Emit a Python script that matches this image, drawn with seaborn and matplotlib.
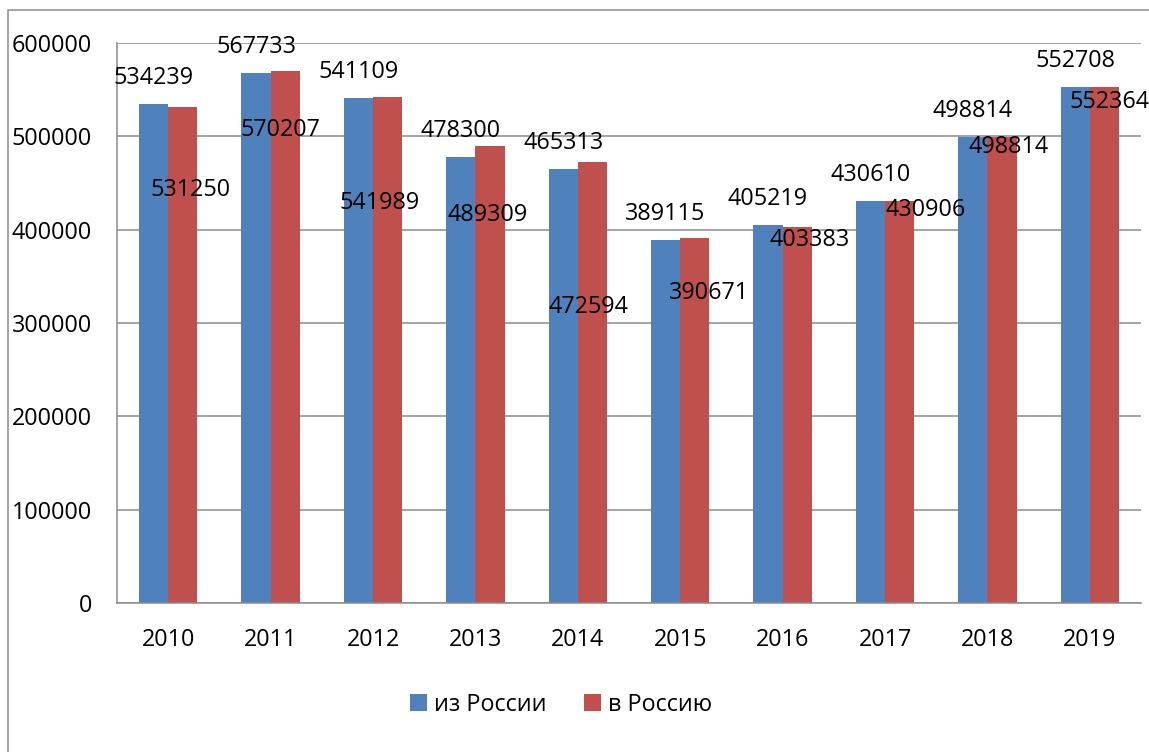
import matplotlib
matplotlib.use("Agg")
import matplotlib.pyplot as plt
import seaborn as sns
import pandas as pd
from matplotlib.patches import Rectangle

years = ["2010", "2011", "2012", "2013", "2014", "2015", "2016", "2017", "2018", "2019"]
from_russia = [534239, 567733, 541109, 478300, 465313, 389115, 405219, 430610, 498814, 552708]
to_russia = [531250, 570207, 541989, 489309, 472594, 390671, 403383, 430906, 498814, 552364]
series_names = ["из России", "в Россию"]
y_ticks = [0, 100000, 200000, 300000, 400000, 500000, 600000]

# manual label placement (pixels relative to bar top centre) for the second series
red_dx = [8, -5, -8, -2, -4, 14, 12, 26, 7, 5]
red_dy = [-83, -59, -106, -69, -145, -55, -13, -9, -10, -15]

df = pd.DataFrame({
    "year": years * 2,
    "value": from_russia + to_russia,
    "series": [series_names[0]] * len(years) + [series_names[1]] * len(years),
})

sns.set_style("white")
plt.rcParams["font.family"] = ["Open Sans", "DejaVu Sans"]
plt.rcParams["text.color"] = "black"

W, H = 1149, 752
fig = plt.figure(figsize=(W / 100, H / 100), dpi=100)
ax = fig.add_axes([117 / W, 1 - 603 / H, (1141 - 117) / W, (603 - 43) / H])

blue, red = "#4F81BD", "#C0504D"
grey = "#8C8C8C"
FS = 16.8
sns.barplot(data=df, x="year", y="value", hue="series", order=years,
            hue_order=series_names, palette=[blue, red], width=0.572,
            ax=ax, legend=True, saturation=1, linewidth=0)

ax.set_xlim(-0.5, len(years) - 0.5)
ax.set_ylim(0, 600000)
ax.set_yticks(y_ticks)
ax.set_yticklabels([str(v) for v in y_ticks])
ax.yaxis.grid(True, color=grey, linewidth=1.1)
ax.set_axisbelow(True)
ax.set_xlabel("")
ax.set_ylabel("")

for s in ["top", "right"]:
    ax.spines[s].set_visible(False)
for s in ["left", "bottom"]:
    ax.spines[s].set_color(grey)
    ax.spines[s].set_linewidth(1.1)

ax.tick_params(axis="y", length=5, width=1.1, color=grey, pad=13, labelsize=FS, labelcolor="black")
ax.tick_params(axis="x", which="major", length=0, pad=18, labelsize=FS, labelcolor="black")
ax.set_xticks([i - 0.5 for i in range(len(years) + 1)], minor=True)
ax.tick_params(axis="x", which="minor", length=7, width=1.1, color=grey, direction="out")

# data labels
containers = ax.containers
for i, bar in enumerate(containers[0]):
    x = bar.get_x() + bar.get_width() / 2
    ax.annotate(str(from_russia[i]), (x, bar.get_height()), xytext=(0, 26),
                textcoords="offset pixels", ha="center", va="center",
                fontsize=FS, color="black", annotation_clip=False)
for i, bar in enumerate(containers[1]):
    x = bar.get_x() + bar.get_width() / 2
    ax.annotate(str(to_russia[i]), (x, bar.get_height()), xytext=(red_dx[i], red_dy[i]),
                textcoords="offset pixels", ha="center", va="center",
                fontsize=FS, color="black", annotation_clip=False)

# legend
handles, labels = ax.get_legend_handles_labels()
ax.legend_.remove()
leg = fig.legend(handles, labels, loc="center", bbox_to_anchor=(561 / W, 1 - 705 / H),
                 ncol=2, frameon=False, fontsize=FS, handlelength=0.75, handleheight=0.75,
                 handletextpad=0.3, columnspacing=1.6)
for t in leg.get_texts():
    t.set_color("black")

# chart frame
fig.patches.append(Rectangle((8 / W, -0.1), 1.2, 1 - 10 / H + 0.1, transform=fig.transFigure,
                             fill=False, edgecolor=grey, linewidth=1.1))

fig.savefig("out.png", dpi=100)
